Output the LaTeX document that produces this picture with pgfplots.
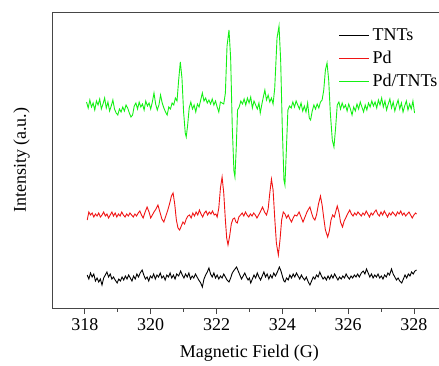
\documentclass[border=0pt]{standalone}
\usepackage{pgfplots}
\pgfplotsset{compat=1.18}
\usepackage{pgfplotstable}
\usepackage{fontspec}
\setmainfont{Liberation Serif}
\definecolor{eprgreen}{RGB}{20,240,20}
\definecolor{eprred}{RGB}{240,20,20}
\definecolor{axgray}{RGB}{70,70,70}

\pgfplotstableread{
x y
318.07 33
318.12 29
318.17 35
318.22 31
318.27 34
318.32 27
318.37 30
318.42 26
318.47 29
318.52 23
318.57 30
318.62 33
318.67 36
318.72 31
318.77 34
318.82 29
318.87 31
318.92 28
318.98 25
319.03 29
319.08 27
319.13 31
319.18 28
319.23 32
319.28 29
319.33 33
319.38 30
319.43 27
319.48 32
319.53 29
319.58 34
319.63 31
319.68 35
319.74 38
319.79 33
319.84 29
319.89 31
319.94 27
319.99 32
320.04 30
320.09 34
320.14 29
320.19 33
320.24 31
320.29 35
320.34 30
320.39 32
320.44 28
320.49 33
320.54 31
320.59 35
320.64 30
320.69 33
320.74 29
320.79 34
320.85 32
320.91 37
320.96 33
321.01 30
321.06 34
321.11 31
321.16 35
321.21 29
321.26 32
321.31 30
321.36 34
321.41 31
321.46 28
321.52 25
321.57 21
321.62 29
321.67 33
321.72 36
321.77 40
321.82 34
321.87 31
321.92 35
321.97 30
322.02 33
322.07 29
322.12 32
322.17 30
322.22 34
322.27 31
322.32 28
322.38 26
322.43 30
322.48 35
322.54 38
322.61 41
322.66 37
322.71 33
322.76 29
322.81 32
322.86 35
322.91 31
322.96 28
323.00 30
323.04 25
323.09 29
323.14 33
323.19 30
323.24 35
323.29 31
323.34 28
323.39 32
323.44 36
323.49 31
323.54 34
323.59 29
323.64 33
323.69 30
323.74 35
323.79 32
323.85 36
323.91 41
323.96 37
324.01 31
324.05 27
324.08 26
324.13 30
324.18 28
324.23 33
324.28 30
324.33 34
324.38 31
324.43 35
324.48 32
324.53 29
324.58 33
324.63 30
324.68 28
324.73 31
324.79 26
324.84 23
324.89 27
324.94 31
324.99 29
325.04 33
325.09 31
325.14 36
325.19 32
325.24 29
325.29 31
325.34 28
325.39 32
325.44 29
325.49 33
325.54 30
325.59 34
325.64 31
325.69 28
325.74 31
325.79 29
325.84 32
325.89 30
325.94 34
325.99 31
326.04 29
326.09 32
326.14 30
326.19 33
326.24 31
326.29 34
326.34 31
326.40 35
326.46 37
326.51 34
326.56 39
326.61 35
326.66 31
326.71 34
326.76 30
326.81 33
326.86 31
326.91 34
326.96 30
327.01 32
327.06 29
327.11 33
327.16 31
327.21 35
327.26 33
327.32 39
327.37 34
327.42 31
327.47 28
327.52 30
327.57 27
327.63 25
327.68 29
327.73 33
327.78 30
327.83 34
327.88 32
327.93 36
327.98 34
328.03 37
328.08 38
}\tnts

\pgfplotstableread{
x y
318.07 88
318.12 96
318.17 93
318.22 95
318.27 91
318.32 94
318.37 92
318.42 95
318.47 91
318.52 93
318.57 96
318.62 92
318.67 94
318.72 90
318.77 93
318.82 96
318.87 92
318.92 95
318.97 91
319.02 94
319.07 92
319.12 96
319.17 93
319.22 91
319.27 94
319.32 92
319.37 95
319.42 93
319.47 91
319.52 94
319.57 92
319.62 95
319.67 97
319.72 93
319.77 90
319.82 95
319.89 101
319.95 96
320.00 90
320.05 93
320.10 96
320.16 99
320.22 103
320.28 96
320.34 89
320.40 86
320.46 92
320.52 98
320.58 105
320.63 112
320.68 115
320.73 104
320.78 88
320.83 80
320.88 78
320.93 82
320.98 86
321.03 84
321.08 89
321.13 92
321.18 93
321.23 90
321.28 95
321.33 92
321.38 96
321.43 93
321.48 98
321.53 94
321.58 91
321.63 95
321.68 97
321.73 93
321.78 96
321.83 94
321.88 97
321.93 93
321.98 94
322.02 91
322.07 100
322.12 120
322.17 131
322.22 115
322.27 88
322.31 70
322.35 63
322.40 72
322.45 84
322.50 89
322.55 90
322.59 86
322.63 85
322.68 91
322.73 93
322.78 95
322.83 92
322.88 96
322.93 93
322.98 91
323.03 94
323.08 92
323.13 95
323.18 93
323.23 90
323.28 93
323.33 96
323.40 101
323.46 96
323.52 93
323.57 99
323.62 115
323.67 129
323.72 118
323.77 90
323.82 65
323.88 53
323.93 68
323.98 88
324.03 96
324.08 94
324.13 90
324.18 93
324.23 89
324.28 86
324.33 90
324.38 93
324.44 92
324.51 96
324.57 91
324.63 86
324.69 91
324.75 96
324.80 99
324.84 101
324.89 95
324.94 90
324.99 88
325.04 93
325.10 104
325.16 112
325.21 103
325.26 90
325.31 78
325.38 71
325.43 77
325.48 88
325.53 93
325.58 91
325.63 97
325.67 102
325.72 96
325.77 86
325.83 81
325.88 87
325.94 91
326.00 95
326.05 98
326.10 94
326.15 92
326.20 95
326.25 93
326.30 96
326.35 94
326.40 92
326.45 95
326.50 93
326.55 97
326.60 94
326.65 91
326.70 95
326.75 93
326.80 96
326.85 98
326.90 94
326.95 92
327.00 96
327.05 93
327.10 97
327.15 94
327.20 91
327.25 95
327.30 93
327.35 96
327.40 94
327.45 92
327.50 96
327.55 94
327.60 97
327.65 93
327.70 95
327.75 92
327.80 94
327.85 96
327.90 93
327.95 90
328.00 93
328.05 95
328.08 94
}\pd

\pgfplotstableread{
x y
318.05 206
318.10 200
318.15 208
318.20 201
318.25 205
318.30 198
318.35 207
318.40 203
318.45 209
318.50 199
318.55 204
318.60 210
318.65 200
318.70 206
318.75 197
318.80 202
318.85 208
318.90 199
318.95 195
319.00 193
319.05 199
319.10 196
319.15 201
319.20 197
319.25 203
319.30 200
319.35 195
319.40 191
319.45 193
319.50 202
319.55 205
319.60 199
319.65 206
319.70 201
319.75 204
319.80 198
319.85 207
319.90 202
319.95 205
320.00 199
320.05 206
320.10 215
320.15 204
320.20 198
320.25 203
320.30 213
320.35 205
320.40 200
320.45 196
320.50 193
320.55 201
320.60 199
320.65 205
320.70 203
320.75 210
320.80 207
320.85 228
320.90 246
320.95 230
321.00 196
321.05 175
321.08 171
321.12 182
321.17 200
321.22 206
321.27 199
321.32 203
321.37 196
321.42 204
321.47 201
321.52 208
321.57 215
321.62 207
321.67 210
321.72 205
321.77 208
321.82 204
321.87 209
321.92 203
321.97 207
322.02 201
322.07 196
322.12 206
322.17 205
322.22 204
322.27 215
322.32 262
322.38 278
322.43 250
322.48 180
322.53 137
322.56 131
322.60 160
322.64 198
322.69 201
322.74 207
322.79 204
322.84 209
322.89 203
322.94 210
322.99 205
323.04 211
323.09 200
323.14 207
323.19 203
323.24 199
323.29 205
323.33 195
323.38 204
323.43 212
323.47 218
323.52 208
323.57 213
323.62 206
323.67 210
323.72 204
323.77 220
323.84 270
323.90 282
323.95 248
324.00 180
324.05 128
324.08 123
324.12 155
324.17 198
324.22 202
324.27 200
324.32 206
324.37 201
324.42 207
324.47 203
324.52 199
324.57 205
324.62 197
324.67 202
324.72 196
324.77 205
324.82 190
324.86 188
324.91 197
324.96 203
325.01 199
325.06 204
325.11 200
325.16 206
325.21 208
325.26 218
325.31 238
325.36 245
325.41 228
325.46 195
325.52 168
325.57 161
325.62 180
325.67 203
325.72 206
325.77 199
325.82 205
325.87 200
325.92 203
325.97 197
326.02 204
326.07 199
326.12 193
326.17 201
326.22 197
326.27 204
326.32 199
326.37 206
326.42 201
326.47 196
326.52 203
326.57 198
326.62 205
326.67 201
326.72 207
326.77 202
326.82 206
326.87 200
326.92 208
326.97 203
327.02 210
327.07 201
327.12 207
327.17 198
327.22 204
327.27 209
327.32 200
327.37 206
327.42 197
327.47 203
327.52 208
327.57 199
327.62 205
327.67 196
327.72 202
327.77 207
327.82 198
327.87 204
327.92 199
327.97 207
328.02 195
}\pdtnts

\begin{document}
\begin{tikzpicture}[font=\fontsize{18}{22}\selectfont]
\path[use as bounding box] (-52pt,-57pt) rectangle (387pt,308pt);
\clip (-52pt,-57pt) rectangle (387pt,308pt);
\begin{axis}[
  at={(0pt,0pt)}, anchor=south west,
  scale only axis,
  width=394.8pt, height=295.5pt,
  xmin=317, xmax=329,
  ymin=0, ymax=295.5,
  xtick={318,320,322,324,326,328},
  xticklabels={318,320,322,324,326,328},
  minor x tick num=1,
  xtick pos=bottom,
  ytick=\empty,
  tick align=outside,
  major tick length=6pt,
  minor tick length=3.5pt,
  every tick/.style={axgray, line width=0.8pt},
  axis line style={axgray, line width=0.8pt},
  xticklabel style={font=\rmfamily\fontsize{18}{22}\selectfont, yshift=-1pt},
  xlabel={Magnetic Field (G)},
  ylabel={Intensity (a.u.)},
  xlabel style={at={(axis description cs:0.5,-0.152)}, anchor=center},
  ylabel style={at={(axis description cs:-0.077,0.5)}, anchor=center},
  legend style={at={(0.718,0.955)}, anchor=north west, draw=none, fill=none,
    font=\fontsize{18}{22}\selectfont, row sep=7pt,
    nodes={inner xsep=3pt, inner ysep=1pt}},
  legend cell align=left,
  legend image code/.code={\draw[#1, line width=1pt] (0pt,0pt) -- (30pt,0pt);},
]
\addplot[black, line width=0.9pt] table[x=x,y=y]{\tnts};
\addlegendentry{TNTs}
\addplot[eprred, line width=0.9pt] table[x=x,y=y]{\pd};
\addlegendentry{Pd}
\addplot[eprgreen, line width=0.9pt] table[x=x,y=y]{\pdtnts};
\addlegendentry{Pd/TNTs}
\end{axis}
\end{tikzpicture}
\end{document}
